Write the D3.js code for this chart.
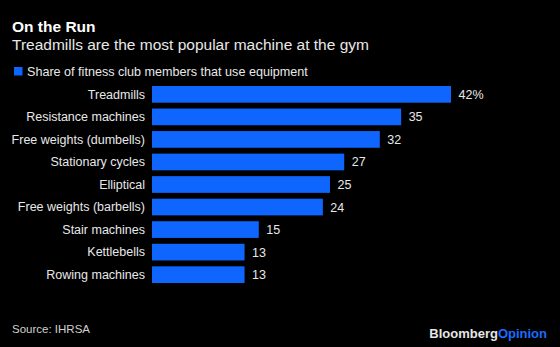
<!DOCTYPE html>
<html>
<head>
    <style>
        body { margin: 0; background: #000; }
        svg { display: block; font-family: "Liberation Sans", Arial, sans-serif; }
        .title { fill: #fff; font-weight: bold; font-size: 15.5px; }
        .subtitle { fill: #e8e8e8; font-size: 15.5px; }
        .legend text { fill: #e8e8e8; font-size: 12.6px; }
        .cat { fill: #e8e8e8; font-size: 12.5px; text-anchor: end; }
        .val { fill: #e8e8e8; font-size: 12.5px; }
        .source { fill: #d0d0d0; font-size: 11.5px; }
    </style>
    <script src="https://d3js.org/d3.v7.min.js"></script>
</head>
<body>
    <svg width="560" height="347"></svg>
    <script>
        var categories = ["Treadmills", "Resistance machines", "Free weights (dumbells)",
            "Stationary cycles", "Elliptical", "Free weights (barbells)",
            "Stair machines", "Kettlebells", "Rowing machines"];
        var shares = [42, 35, 32, 27, 25, 24, 15, 13, 13];
        var seriesName = "Share of fitness club members that use equipment";

        var blue = "#0f66ff";

        var data = categories.map(function(c, i) { return { name: c, value: shares[i] }; });

        var svg = d3.select("svg");
        svg.append("rect").attr("width", 560).attr("height", 347).attr("fill", "#000");

        svg.append("text").attr("class", "title").attr("x", 12).attr("y", 31.5).text("On the Run");
        svg.append("text").attr("class", "subtitle").attr("x", 12).attr("y", 50)
           .text("Treadmills are the most popular machine at the gym");

        var legend = svg.append("g").attr("class", "legend");
        legend.append("rect").attr("x", 14).attr("y", 67).attr("width", 8.5).attr("height", 8.5).attr("fill", blue);
        legend.append("text").attr("x", 27).attr("y", 75.5).text(seriesName);

        // step ~22.5px, bar ~16.7px tall, first bar top at y=86
        var step = 22.54, pad = 0.26;
        var y0 = 86 - step * pad / 2;
        var x = d3.scaleLinear().domain([0, 42]).range([152, 451]);
        var y = d3.scaleBand().domain(categories).range([y0, y0 + 9 * step])
                  .paddingInner(pad).paddingOuter(pad / 2);

        var row = svg.selectAll(".row").data(data).enter().append("g").attr("class", "row");

        row.append("rect")
           .attr("x", x(0))
           .attr("y", function(d) { return y(d.name); })
           .attr("width", function(d) { return x(d.value) - x(0); })
           .attr("height", y.bandwidth())
           .attr("fill", blue);

        row.append("text")
           .attr("class", "cat")
           .attr("x", x(0) - 7)
           .attr("y", function(d) { return y(d.name) + y.bandwidth() / 2 + 4.2; })
           .text(function(d) { return d.name; });

        row.append("text")
           .attr("class", "val")
           .attr("x", function(d) { return x(d.value) + 7.5; })
           .attr("y", function(d) { return y(d.name) + y.bandwidth() / 2 + 4.5; })
           .text(function(d, i) { return i === 0 ? d.value + "%" : d.value; });

        svg.append("text").attr("class", "source").attr("x", 12).attr("y", 332.7).text("Source: IHRSA");

        var logo = svg.append("text").attr("x", 547).attr("y", 338)
                      .attr("text-anchor", "end")
                      .style("font-size", "13px").style("font-weight", "bold");
        logo.append("tspan").attr("fill", "#e6e6e6").text("Bloomberg");
        logo.append("tspan").attr("fill", "#1a6cff").text("Opinion");
    </script>
</body>
</html>
